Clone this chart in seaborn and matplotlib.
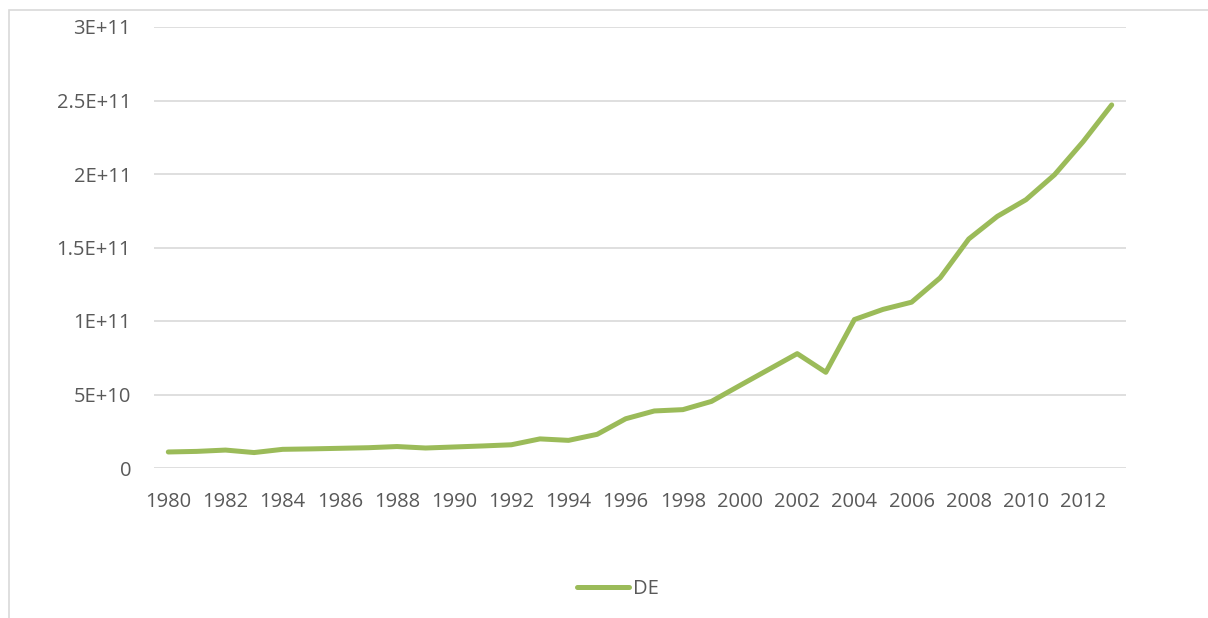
import matplotlib
matplotlib.use("Agg")
import matplotlib.pyplot as plt
from matplotlib.patches import Rectangle
from matplotlib.lines import Line2D
from matplotlib.ticker import FixedLocator
import seaborn as sns
import pandas as pd

years = list(range(1980, 2014))
de_values = [
    1.09e10, 1.13e10, 1.22e10, 1.05e10, 1.27e10, 1.30e10, 1.34e10, 1.38e10,
    1.46e10, 1.36e10, 1.43e10, 1.50e10, 1.58e10, 1.98e10, 1.88e10, 2.29e10,
    3.35e10, 3.88e10, 3.97e10, 4.53e10, 5.62e10, 6.70e10, 7.78e10, 6.51e10,
    1.01e11, 1.079e11, 1.128e11, 1.294e11, 1.558e11, 1.712e11, 1.825e11,
    1.995e11, 2.22e11, 2.47e11,
]
series_name = "DE"
y_ticks = [0, 5e10, 1e11, 1.5e11, 2e11, 2.5e11, 3e11]
y_tick_labels = ["0", "5E+10", "1E+11", "1.5E+11", "2E+11", "2.5E+11", "3E+11"]
x_ticks = list(range(1980, 2013, 2))

df = pd.DataFrame({"year": years, "value": de_values, "series": series_name})

sns.set_theme(style="white")
plt.rcParams["font.family"] = ["Open Sans", "DejaVu Sans"]

W, H = 1208, 618
fig = plt.figure(figsize=(W / 100, H / 100), dpi=100)
fig.patch.set_facecolor("white")

# chart frame (open to the right and bottom edges)
fig.patches.append(Rectangle((9 / W, -0.05), 1.2, 1 - 10 / H + 0.05,
                             transform=fig.transFigure, fill=False,
                             edgecolor="#d9d9d9", linewidth=1.2, zorder=0))

left, right, top, bottom = 154, 1126, 27, 468
ax = fig.add_axes([left / W, 1 - bottom / H, (right - left) / W, (bottom - top) / H])

line_color = "#9bbb59"
sns.lineplot(data=df, x="year", y="value", ax=ax, color=line_color,
             linewidth=3.6, legend=False, solid_capstyle="round",
             solid_joinstyle="round")

ax.set_xlim(1979.5, 2013.5)
ax.set_ylim(0, 3e11)
ax.yaxis.set_major_locator(FixedLocator(y_ticks))
ax.set_yticklabels(y_tick_labels)
ax.xaxis.set_major_locator(FixedLocator(x_ticks))
ax.set_xticklabels([str(y) for y in x_ticks])
ax.set_xlabel("")
ax.set_ylabel("")

for s in ax.spines.values():
    s.set_visible(False)
ax.grid(axis="y", color="#d9d9d9", linewidth=1.2)
ax.set_axisbelow(True)
ax.tick_params(axis="both", length=0, labelsize=14.5, colors="#595959")
ax.tick_params(axis="y", pad=16.5)
ax.tick_params(axis="x", pad=17)

handle = Line2D([], [], color=line_color, linewidth=3.6, solid_capstyle="round")
fig.legend([handle], [series_name], loc="center", bbox_to_anchor=(618 / W, 1 - 589 / H),
           frameon=False, fontsize=14.5, labelcolor="#595959", handlelength=2.55,
           handletextpad=0.2)

fig.savefig("out.png", dpi=100, facecolor="white")
